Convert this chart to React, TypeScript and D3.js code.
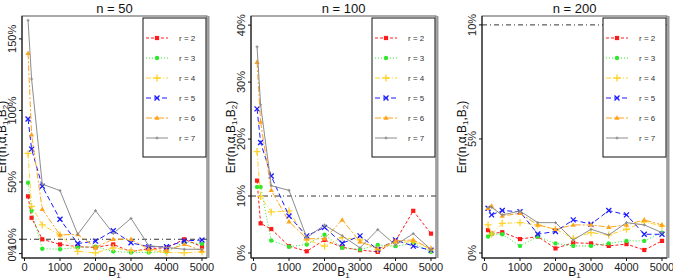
import React from "react";
import * as d3 from "d3";

// B1 grid shared by every panel
const B1 = [100, 200, 500, 1000, 1500, 2000, 2500, 3000, 3500, 4000, 4500, 5000];
const xTicks = [0, 1000, 2000, 3000, 4000, 5000];
const seriesNames = ["r = 2", "r = 3", "r = 4", "r = 5", "r = 6", "r = 7"];

// Error rates (%) for n = 50
const n50_r2 = [40, 25, 10, 6.4, 4.8, 4.3, 6.4, 1.3, 3.5, 4, 10, 4.8];
const n50_r3 = [49.5, 30, 3.4, 3, 4.3, 4.8, 1.5, 0.8, 0.8, 1.2, 8, 6.8];
const n50_r4 = [70, 33, 20, 13, 1.5, 0.5, 4, 2, 2, 0.8, 0.5, 1.2];
const n50_r5 = [94, 73, 47, 24, 7, 8.7, 16, 7.5, 4.8, 4.8, 8.8, 9.5];
const n50_r6 = [140, 83, 31, 13, 13.4, 4.3, 10, 10, 3, 2, 6.5, 2];
const n50_r7 = [163, 122, 48.5, 44, 13.4, 30, 14, 24.6, 5.5, 4.3, 3, 3];

// Error rates (%) for n = 100
const n100_r2 = [12.7, 5.2, 4.2, 1.2, 0.3, 2.3, 1, 0.5, 0.2, 2.1, 7.4, 3.4];
const n100_r3 = [11.6, 11.6, 2.2, 1.1, 1.5, 3.2, 0.9, 0.6, 1.4, 1.2, 1.7, 0.2];
const n100_r4 = [17.8, 9.9, 7.2, 7.4, 2.3, 1.2, 2.7, 2.3, 0.6, 1.8, 2, 0.7];
const n100_r5 = [25.3, 19.4, 13.5, 6.5, 3, 4.5, 1.7, 3, 0.6, 2.3, 1.2, 0.5];
const n100_r6 = [33.5, 23, 11, 5.5, 2.5, 2.5, 5.8, 2, 0.7, 2.1, 2.3, 0.7];
const n100_r7 = [36.2, 26, 11.8, 11, 2.7, 4.9, 3, 0.9, 4.1, 1.4, 3.4, 0.6];

// Error rates (%) for n = 200
const n200_r2 = [1.0, 0.85, 0.91, 0.61, 0.72, 0.2, 0.45, 0.42, 0.31, 0.39, 0.13, 0.53];
const n200_r3 = [0.72, 0.83, 0.82, 0.31, 0.72, 0.42, 0.31, 0.31, 0.42, 0.53, 0.53, 0.89];
const n200_r4 = [1.23, 0.83, 1.3, 1.33, 1.23, 1.04, 0.64, 0.89, 0.79, 1.04, 1.37, 1.18];
const n200_r5 = [1.96, 1.67, 1.86, 1.81, 0.83, 0.94, 1.45, 1.26, 1.86, 1.67, 0.82, 0.82];
const n200_r6 = [1.96, 2.06, 1.62, 1.74, 1.23, 1.04, 1.23, 1.23, 1.13, 1.23, 1.45, 1.23];
const n200_r7 = [1.99, 2.0, 1.67, 1.84, 1.33, 1.33, 0.57, 1.04, 0.79, 1.33, 1.23, 0.89];

const titles = ["n = 50", "n = 100", "n = 200"];
const yTickSets = [[0, 10, 50, 100, 150], [0, 10, 20, 30, 40], [0, 5, 10]];
const yDomains: [number, number][] = [[-3.1, 166], [-0.88, 41.6], [-0.22, 10.39]];
const threshold = 10;
const panelData = [
  [n50_r2, n50_r3, n50_r4, n50_r5, n50_r6, n50_r7],
  [n100_r2, n100_r3, n100_r4, n100_r5, n100_r6, n100_r7],
  [n200_r2, n200_r3, n200_r4, n200_r5, n200_r6, n200_r7],
];

const colors = ["#ff1a1a", "#2ee82e", "#ffd22a", "#1a1aff", "#ffa31a", "#8c8c8c"];
const dashes = ["3,2", "1,2", "5,2,1,2", "5,3", "6,2,2,2", "none"];
const shapes = ["square", "circle", "plus", "cross", "triangle", "dot"];

const W = 673;
const H = 279;
const boxes = [
  { left: 22, right: 207 },
  { left: 251, right: 436 },
  { left: 482, right: 667 },
];
const top = 16;
const bottom = 258;
const font = "'Liberation Sans', Arial, sans-serif";

function Marker({ shape, x, y, color }: { shape: string; x: number; y: number; color: string }) {
  switch (shape) {
    case "square":
      return <rect x={x - 2.1} y={y - 2.1} width={4.2} height={4.2} fill={color} />;
    case "circle":
      return <circle cx={x} cy={y} r={2.2} fill={color} />;
    case "plus":
      return (
        <path d={`M${x - 3.5},${y}H${x + 3.5}M${x},${y - 3.5}V${y + 3.5}`} stroke={color} strokeWidth={1.3} />
      );
    case "cross":
      return (
        <path
          d={`M${x - 2.5},${y - 2.5}L${x + 2.5},${y + 2.5}M${x - 2.5},${y + 2.5}L${x + 2.5},${y - 2.5}`}
          stroke={color}
          strokeWidth={1.3}
        />
      );
    case "triangle":
      return <path d={`M${x},${y - 2.8}L${x + 2.6},${y + 1.8}L${x - 2.6},${y + 1.8}Z`} fill={color} />;
    default:
      return (
        <path d={`M${x - 1.5},${y}H${x + 1.5}M${x},${y - 1.5}V${y + 1.5}`} stroke={color} strokeWidth={1} />
      );
  }
}

function Panel({ idx }: { idx: number }) {
  const { left, right } = boxes[idx];
  const x = d3.scaleLinear().domain([0, 5000]).range([left + 2.5, right - 5]);
  const y = d3.scaleLinear().domain(yDomains[idx]).range([bottom, top]);
  const line = d3
    .line<number>()
    .x((_, i) => x(B1[i]))
    .y((v) => y(v));
  const cx = (left + right) / 2;
  const cy = (top + bottom) / 2;
  const legL = right - 64;
  const legTop = 18;
  const clipId = `clip${idx}`;

  return (
    <g>
      <defs>
        <clipPath id={clipId}>
          <rect x={left} y={top} width={right - left} height={bottom - top} />
        </clipPath>
      </defs>
      <text x={cx} y={13} textAnchor="middle" fontSize={13} fontFamily={font} fill="#111">
        {titles[idx]}
      </text>

      <g clipPath={`url(#${clipId})`}>
        <line
          x1={left}
          x2={right}
          y1={y(threshold)}
          y2={y(threshold)}
          stroke="#333"
          strokeWidth={1}
          strokeDasharray="5,3,1,3"
        />
        {panelData[idx].map((vals, s) => (
          <g key={s}>
            <path
              d={line(vals) ?? ""}
              fill="none"
              stroke={colors[s]}
              strokeWidth={1}
              strokeDasharray={dashes[s]}
            />
            {vals.map((v, i) => (
              <Marker key={i} shape={shapes[s]} x={x(B1[i])} y={y(v)} color={colors[s]} />
            ))}
          </g>
        ))}
      </g>

      {/* legend */}
      <rect x={legL} y={legTop} width={right - legL - 1} height={139} fill="#fff" stroke="#111" strokeWidth={1} />
      {seriesNames.map((name, s) => {
        const ly = 38 + 20 * s;
        return (
          <g key={name}>
            <line
              x1={legL + 3}
              x2={legL + 25}
              y1={ly}
              y2={ly}
              stroke={colors[s]}
              strokeWidth={1}
              strokeDasharray={dashes[s]}
            />
            <Marker shape={shapes[s]} x={legL + 14} y={ly} color={colors[s]} />
            <text x={legL + 36} y={ly + 3} fontSize={8} fontFamily={font} fill="#333">
              {name}
            </text>
          </g>
        );
      })}

      {/* frame */}
      <rect x={left} y={top} width={right - left} height={bottom - top} fill="none" stroke="#555" strokeWidth={1} />
      <line x1={right + 1.5} x2={right + 1.5} y1={top} y2={bottom} stroke="#9a9a9a" strokeWidth={2} />
      <line x1={left} x2={left} y1={top} y2={bottom} stroke="#111" strokeWidth={1} />
      <line x1={left} x2={right} y1={bottom} y2={bottom} stroke="#111" strokeWidth={1} />

      {/* x axis */}
      {xTicks.map((t) => (
        <g key={t}>
          <line x1={x(t)} x2={x(t)} y1={bottom} y2={bottom + 3} stroke="#111" />
          <text x={x(t)} y={271} textAnchor="middle" fontSize={11} fontFamily={font} fill="#222">
            {t}
          </text>
        </g>
      ))}
      <text x={cx} y={276} textAnchor="middle" fontSize={12} fontFamily={font} fill="#111">
        B<tspan fontSize={8} dy={1.5}>1</tspan>
      </text>

      {/* y axis */}
      {yTickSets[idx].map((t) => (
        <g key={t}>
          <line x1={left - 3} x2={left} y1={y(t)} y2={y(t)} stroke="#111" />
          <text
            transform={`translate(${left - 6},${y(t)}) rotate(-90)`}
            textAnchor="middle"
            fontSize={11}
            fontFamily={font}
            fill="#222"
          >
            {`${t}%`}
          </text>
        </g>
      ))}
      <text
        transform={`translate(${left - 16},${cy}) rotate(-90)`}
        textAnchor="middle"
        fontSize={12}
        fontFamily={font}
        fill="#111"
      >
        Err(n,α,B<tspan fontSize={8} dy={2}>1</tspan>
        <tspan dy={-2}>,B</tspan>
        <tspan fontSize={8} dy={2}>2</tspan>
        <tspan dy={-2}>)</tspan>
      </text>
    </g>
  );
}

export default function App() {
  return (
    <svg width={W} height={H} style={{ display: "block", position: "absolute", left: 0, top: 0 }}>
      <rect width={W} height={H} fill="#fff" />
      {[0, 1, 2].map((i) => (
        <Panel key={i} idx={i} />
      ))}
    </svg>
  );
}
